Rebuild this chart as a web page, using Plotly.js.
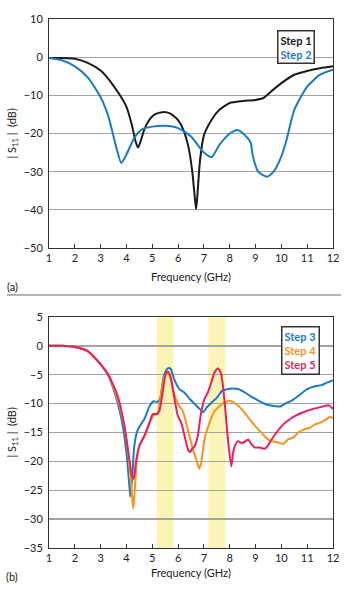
<!DOCTYPE html>
<html>
<head>
<meta charset="utf-8">
<script src="https://cdn.plot.ly/plotly-3.0.1.min.js"></script>
<style>html,body{margin:0;padding:0;background:#fff;}#chart{width:350px;height:592px;}</style>
</head>
<body>
<div id="chart"></div>
<script>
// ---- Panel (a) ----
const step1X = [1,1.5,2,2.5,3,3.25,3.5,3.75,4,4.2,4.35,4.45,4.55,4.7,4.9,5.1,5.4,5.7,6,6.2,6.4,6.55,6.65,6.7,6.75,6.85,7,7.3,7.6,8,8.5,9,9.3,9.6,10,10.5,11,11.5,12];
const step1Y = [-0.2,-0.2,-0.4,-1.5,-3.5,-5.3,-7.5,-10,-13,-17.5,-22,-23.7,-22,-18.8,-16.3,-15,-14.4,-14.8,-16.5,-19,-23.5,-30,-37,-39.8,-36,-27,-20.5,-16.4,-13.8,-12,-11.5,-11.2,-10.7,-9,-6.8,-4.6,-3.6,-2.9,-2.4];
const step2X = [1,1.5,2,2.5,3,3.3,3.6,3.8,4,4.3,4.6,5,5.5,6,6.5,7,7.3,7.6,8,8.3,8.6,8.8,8.9,9.1,9.45,9.7,10,10.2,10.5,11,11.5,12];
const step2Y = [-0.2,-0.8,-2.4,-5.3,-10.5,-15.5,-23.5,-27.7,-25.5,-21.2,-18.9,-18.2,-18,-18.6,-20.8,-25,-26.2,-23,-20,-19.1,-20.5,-22.2,-26,-30,-31.3,-30,-26,-21.7,-13.8,-7.7,-4.6,-3.3];

// ---- Panel (b) ----
const step3X = [1,1.5,2,2.5,3,3.3,3.5,3.8,4,4.1,4.15,4.22,4.3,4.4,4.5,4.7,4.9,5.05,5.2,5.3,5.45,5.6,5.7,5.85,6.05,6.25,6.45,6.65,6.85,6.97,7.1,7.3,7.5,7.7,7.9,8.1,8.35,8.6,8.8,9,9.2,9.45,9.7,9.95,10.15,10.4,10.7,11,11.3,11.55,11.75,12];
const step3Y = [0,0,-0.2,-0.9,-3.2,-5.2,-7.5,-12.5,-18.5,-23.5,-26.1,-23,-17.5,-15,-14,-12.6,-10.4,-9.6,-9.7,-9.2,-5.2,-3.9,-3.9,-5.8,-7.5,-8.1,-9.2,-10.1,-11,-11.5,-10.7,-9.8,-9,-7.8,-7.5,-7.4,-7.5,-8.1,-8.7,-9.2,-9.7,-10.2,-10.4,-10.5,-10,-9.5,-8.5,-7.5,-7,-6.8,-6.4,-6];
const step4X = [1,1.5,2,2.5,3,3.3,3.6,3.9,4.1,4.2,4.26,4.32,4.4,4.5,4.7,4.9,5.05,5.2,5.35,5.5,5.62,5.7,5.8,6,6.18,6.31,6.44,6.57,6.7,6.82,6.9,7.02,7.22,7.41,7.61,7.8,8,8.26,8.51,8.77,8.97,9.16,9.36,9.55,9.74,9.94,10.07,10.26,10.46,10.65,10.85,11.1,11.3,11.5,11.7,11.88,12];
const step4Y = [0,0,-0.2,-0.9,-3.2,-5,-8.5,-13.5,-20,-25,-28.2,-25,-20,-17.3,-15.6,-13.3,-12,-11.8,-8,-5,-4.8,-5.5,-7.5,-10.1,-11.3,-13.3,-15.6,-17.9,-19.6,-21.3,-20.2,-16.2,-13.3,-11.3,-10.4,-9.8,-9.5,-10.1,-11.2,-12.7,-13.8,-14.7,-15.7,-16.4,-16.6,-16.8,-17,-16.2,-15.9,-15,-14.5,-14.2,-13.6,-13.3,-12.8,-12.3,-12.5];
const step5X = [1,1.5,2,2.5,3,3.3,3.66,3.92,4.11,4.21,4.28,4.37,4.5,4.69,4.89,5.02,5.17,5.28,5.4,5.54,5.62,5.73,5.86,5.99,6.12,6.25,6.38,6.45,6.55,6.64,6.76,6.89,7.02,7.15,7.28,7.41,7.54,7.65,7.74,7.84,7.93,8.06,8.13,8.19,8.32,8.45,8.58,8.71,8.84,8.97,9.16,9.36,9.49,9.62,9.81,10.07,10.33,10.59,10.85,11.17,11.43,11.68,11.84,12];
const step5Y = [0,0,-0.2,-0.9,-3.2,-5,-8.7,-13.8,-19.6,-22.4,-23,-20,-17.3,-15.6,-13.3,-11.8,-11.8,-11.2,-8,-4.6,-4.5,-5.8,-9.2,-12.1,-13.3,-15.6,-17.9,-18.4,-17.8,-17.4,-15.6,-11.6,-9.2,-8.1,-6.4,-4.6,-3.9,-4.6,-7,-11.6,-16.2,-20.9,-18.5,-17.4,-16.5,-16.8,-16.6,-16.2,-17,-17.6,-17.6,-17.8,-17.2,-16.2,-15,-13.6,-12.7,-12,-11.5,-11,-10.7,-10.4,-10.3,-10.9];

// highlighted bands (GHz)
const bands = [[5.17,5.83],[7.17,7.83]];

const colors = {s1:'#1a1a1a', s2:'#1b7bc8', s3:'#1b7bc8', s4:'#f7941d', s5:'#ec1f5c'};
const FONT = 'Lato, "Open Sans", sans-serif';

function tr(x,y,c,xa,ya){
  return {x:x,y:y,type:'scatter',mode:'lines',line:{color:c,width:2,shape:'spline',smoothing:0.6},
    xaxis:xa,yaxis:ya,hoverinfo:'skip',showlegend:false};
}
const data = [
  tr(step1X,step1Y,colors.s1,'x','y'),
  tr(step2X,step2Y,colors.s2,'x','y'),
  tr(step3X,step3Y,colors.s3,'x2','y2'),
  tr(step4X,step4Y,colors.s4,'x2','y2'),
  tr(step5X,step5Y,colors.s5,'x2','y2')
];

const xCommon = {range:[1,12],dtick:1,tick0:1,ticks:'inside',ticklen:4,tickcolor:'#333',tickwidth:1,
  showline:true,linecolor:'#333',linewidth:1,mirror:true,showgrid:false,zeroline:false,
  tickfont:{family:FONT,size:11,color:'#222'},fixedrange:true};
const yCommon = {ticks:'',showline:true,linecolor:'#333',linewidth:1,mirror:true,showgrid:true,
  gridcolor:'#a3a3a3',gridwidth:1.3,zeroline:false,tickfont:{family:FONT,size:11,color:'#222'},
  ticklabelstandoff:3,fixedrange:true};

const shapes = bands.map(b=>({type:'rect',xref:'x2',yref:'y2 domain',x0:b[0],x1:b[1],y0:0,y1:1,
  fillcolor:'#fcf4b4',line:{width:0},layer:'below'}));
shapes.push({type:'line',xref:'paper',yref:'paper',x0:-0.148,x1:1.028,y0:0.4783,y1:0.4783,line:{color:'#666',width:1}});

const ann = (text,x,y,opts)=>Object.assign({text:text,xref:'paper',yref:'paper',x:x,y:y,showarrow:false,
  font:{family:FONT,size:11,color:'#222'}},opts||{});

const layout = {
  width:350,height:592,margin:{l:49,r:17,t:19,b:44},
  paper_bgcolor:'#fff',plot_bgcolor:'#fff',showlegend:false,
  xaxis:Object.assign({},xCommon,{domain:[0,1],anchor:'y'}),
  yaxis:Object.assign({},yCommon,{domain:[0.5671,1],range:[-50,10],dtick:10,anchor:'x'}),
  xaxis2:Object.assign({},xCommon,{domain:[0,1],anchor:'y2'}),
  yaxis2:Object.assign({},yCommon,{domain:[0,0.4367],range:[-35,5],dtick:5,anchor:'x2'}),
  shapes:shapes,
  annotations:[
    ann('Frequency (GHz)',0.5,0.514,{xanchor:'center',yanchor:'middle'}),
    ann('Frequency (GHz)',0.5,-0.047,{xanchor:'center',yanchor:'middle'}),
    ann('| S<sub>11</sub> |  (dB)',-0.130,0.7836,{xanchor:'center',yanchor:'middle',textangle:-90}),
    ann('| S<sub>11</sub> |  (dB)',-0.130,0.2183,{xanchor:'center',yanchor:'middle',textangle:-90}),
    ann('(a)',-0.127,0.4934,{xanchor:'center',yanchor:'middle'}),
    ann('(b)',-0.129,-0.053,{xanchor:'center',yanchor:'middle'}),
    ann('<b>Step 1</b><br><span style="color:'+colors.s2+'"><b>Step 2</b></span>',0.868,0.947,
      {xanchor:'center',yanchor:'middle',align:'left',bgcolor:'#fff',bordercolor:'#333',borderwidth:1.5,borderpad:2,
       font:{family:FONT,size:11,color:colors.s1}}),
    ann('<b>Step 3</b><br><span style="color:'+colors.s4+'"><b>Step 4</b></span><br><span style="color:'+colors.s5+'"><b>Step 5</b></span>',0.886,0.374,
      {xanchor:'center',yanchor:'middle',align:'left',bgcolor:'#fff',bordercolor:'#333',borderwidth:1.5,borderpad:2,
       font:{family:FONT,size:11,color:colors.s3}})
  ]
};

Plotly.newPlot('chart',data,layout,{staticPlot:true,displayModeBar:false});
</script>
</body>
</html>
